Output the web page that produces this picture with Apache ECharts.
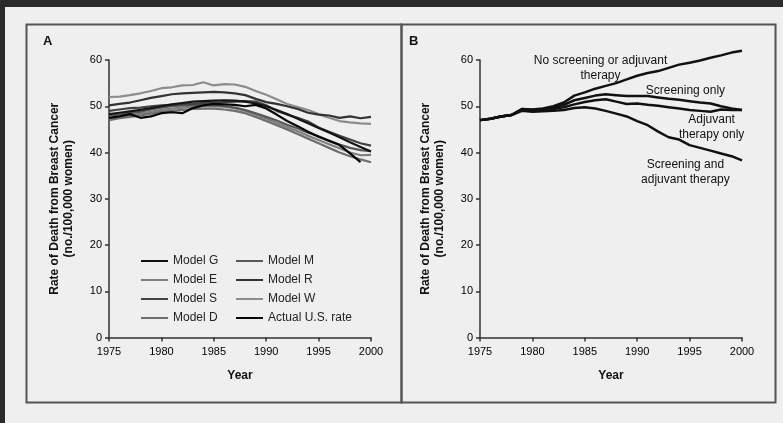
<!DOCTYPE html>
<html>
<head>
<meta charset="utf-8">
<style>
  html, body { margin: 0; padding: 0; background: #2b2b2b; }
  #main { width: 783px; height: 423px; }
</style>
<script src="https://cdn.jsdelivr.net/npm/echarts@6/dist/echarts.min.js"></script>
</head>
<body>
<div id="main"></div>
<script>
// years shared by both panels
const years = [1975, 1976, 1977, 1978, 1979, 1980, 1981, 1982, 1983, 1984, 1985, 1986, 1987,
    1988, 1989, 1990, 1991, 1992, 1993, 1994, 1995, 1996, 1997, 1998, 1999, 2000];

// panel A - model predictions
const modelW = [52.0, 52.1, 52.4, 52.8, 53.3, 53.9, 54.1, 54.5, 54.6, 55.2, 54.5, 54.8, 54.7,
    54.2, 53.3, 52.5, 51.5, 50.5, 49.8, 49.2, 48.3, 47.5, 46.8, 46.5, 46.3, 46.2];
const modelE = [47.2, 47.6, 48.0, 48.4, 48.8, 49.2, 49.5, 49.7, 49.9, 50.0, 50.0, 49.9, 49.6,
    49.0, 48.2, 47.3, 46.4, 45.5, 44.6, 43.6, 42.7, 41.8, 40.9, 40.0, 39.4, 39.5];
const modelD = [47.0, 47.4, 47.7, 48.0, 48.4, 48.8, 49.0, 49.2, 49.4, 49.5, 49.5, 49.3, 49.0,
    48.5, 47.7, 46.8, 45.9, 45.0, 44.0, 43.0, 42.0, 41.0, 40.0, 39.2, 38.5, 37.9];
const modelM = [48.0, 48.2, 48.5, 48.8, 49.3, 49.7, 50.0, 50.2, 50.3, 50.3, 50.2, 50.0, 49.7,
    49.2, 48.5, 47.7, 46.9, 46.0, 45.2, 44.3, 43.5, 42.6, 41.7, 41.0, 40.5, 40.3];
const modelS = [49.0, 49.3, 49.6, 49.7, 50.0, 50.2, 50.3, 50.4, 50.5, 50.7, 50.8, 50.9, 51.0,
    51.1, 51.0, 50.2, 49.0, 48.2, 47.5, 46.7, 45.4, 44.5, 43.6, 42.8, 42.0, 41.5];
const modelR = [50.2, 50.5, 50.8, 51.3, 51.8, 52.2, 52.6, 52.8, 52.9, 53.0, 53.1, 53.0, 52.8,
    52.4, 51.6, 50.9, 50.5, 50.0, 49.4, 48.6, 48.2, 48.0, 47.5, 47.8, 47.4, 47.7];
const modelG = [48.3, 48.6, 48.9, 49.2, 49.6, 50.0, 50.4, 50.7, 51.0, 51.1, 51.2, 51.3, 51.2,
    51.0, 50.6, 50.0, 49.2, 48.3, 47.3, 46.3, 45.3, 44.3, 43.3, 42.2, 41.2, 40.2];
const actualUS = [47.5, 47.8, 48.3, 47.5, 47.8, 48.5, 48.7, 48.5, 49.6, 50.2, 50.5, 50.4, 50.3,
    50.0, 50.3, 49.5, 48.2, 46.8, 45.7, 44.5, 43.4, 42.5, 41.6, 39.8, 37.9, null];

// panel B - scenarios
const noScreening = [47.0, 47.3, 47.8, 48.1, 49.4, 49.3, 49.5, 50.0, 50.8, 52.3, 53.0, 53.8, 54.4,
    55.0, 55.8, 56.6, 57.2, 57.6, 58.3, 59.0, 59.4, 59.9, 60.5, 61.0, 61.6, 62.0];
const screeningOnly = [47.0, 47.3, 47.8, 48.1, 49.4, 49.2, 49.3, 49.7, 50.3, 51.3, 51.8, 52.3, 52.6,
    52.4, 52.2, 52.2, 52.2, 51.9, 51.6, 51.4, 51.1, 50.8, 50.6, 50.0, 49.5, 49.2];
const adjuvantOnly = [47.0, 47.3, 47.8, 48.1, 49.2, 49.0, 49.1, 49.4, 49.8, 50.4, 50.9, 51.3, 51.5,
    51.0, 50.5, 50.6, 50.3, 50.1, 49.8, 49.5, 49.2, 49.0, 48.8, 49.3, 49.2, 49.2];
const screeningAdjuvant = [47.0, 47.3, 47.8, 48.1, 49.0, 48.8, 48.9, 49.0, 49.2, 49.6, 49.8, 49.5, 49.0,
    48.4, 47.8, 46.8, 45.9, 44.5, 43.3, 42.8, 41.6, 41.0, 40.4, 39.8, 39.2, 38.3];

// annotations in panel B (text, year, rate)
const annoText = ['No screening or adjuvant\ntherapy', 'Screening only', 'Adjuvant\ntherapy only', 'Screening and\nadjuvant therapy'];
const annoYear = [1986.5, 1994.6, 1997.1, 1994.6];
const annoRate = [58.3, 53.3, 45.5, 35.7];

const yTicks = [0, 10, 20, 30, 40, 50, 60];
const yearTicks = [1975, 1980, 1985, 1990, 1995, 2000];

const font = 'Liberation Sans';
const pair = (vals) => years.map((y, i) => [y, vals[i]]);

let chartDom = document.querySelector('#main');
let myChart = echarts.init(chartDom, null, { renderer: 'canvas' });

const xAxisBase = (gridIndex) => ({
    type: 'value',
    gridIndex: gridIndex,
    min: yearTicks[0],
    max: yearTicks[yearTicks.length - 1],
    interval: 5,
    name: 'Year',
    nameLocation: 'middle',
    nameGap: 32,
    nameTextStyle: { fontFamily: font, fontSize: 12, fontWeight: 'bold', color: '#111' },
    axisLine: { lineStyle: { color: '#333', width: 1.5 } },
    axisTick: { show: true, length: 4, lineStyle: { color: '#333', width: 1.5 } },
    axisLabel: { margin: 9, fontFamily: font, fontSize: 11, color: '#000', formatter: (v) => String(v) },
    splitLine: { show: false },
});
const yAxisBase = (gridIndex) => ({
    type: 'value',
    gridIndex: gridIndex,
    min: yTicks[0],
    max: yTicks[yTicks.length - 1],
    interval: 10,
    name: 'Rate of Death from Breast Cancer\n(no./100,000 women)',
    nameLocation: 'middle',
    nameRotate: 90,
    nameGap: 33,
    nameTextStyle: { fontFamily: font, fontSize: 12, fontWeight: 'bold', color: '#111', lineHeight: 14 },
    axisLine: { show: true, lineStyle: { color: '#333', width: 1.5 } },
    axisTick: { show: true, length: 4, lineStyle: { color: '#333', width: 1.5 } },
    axisLabel: { margin: 7, fontFamily: font, fontSize: 11, color: '#000' },
    splitLine: { show: false },
});

const modelLine = (name, vals, color) => ({
    name: name,
    type: 'line',
    xAxisIndex: 0,
    yAxisIndex: 0,
    symbol: 'none',
    lineStyle: { color: color, width: 2.2 },
    itemStyle: { color: color },
    data: pair(vals),
});
const scenarioLine = (name, vals) => ({
    name: name,
    type: 'line',
    xAxisIndex: 1,
    yAxisIndex: 1,
    symbol: 'none',
    clip: false,
    lineStyle: { color: '#111', width: 2.5 },
    itemStyle: { color: '#111' },
    data: pair(vals),
});

// legend icon = plain line, symbol hidden
const legendStyle = {
    orient: 'vertical',
    itemWidth: 27,
    itemHeight: 12,
    itemGap: 7,
    itemStyle: { opacity: 0 },
    textStyle: { fontFamily: font, fontSize: 12, color: '#222', lineHeight: 12 },
};

let annoSeries = scenarioLine('No screening or adjuvant therapy', noScreening);
annoSeries.markPoint = {
    symbol: 'rect',
    symbolSize: 1,
    itemStyle: { color: 'rgba(0,0,0,0)' },
    label: { show: true, position: 'inside', formatter: '{b}', fontFamily: font, fontSize: 12, color: '#111', lineHeight: 15, align: 'center' },
    data: annoText.map((t, i) => ({ name: t, coord: [annoYear[i], annoRate[i]] })),
};

myChart.setOption({
    backgroundColor: '#efefef',
    animation: false,
    // frame and panel boxes
    graphic: [
        { type: 'rect', shape: { x: 0, y: 0, width: 783, height: 7 }, style: { fill: '#2b2b2b' } },
        { type: 'rect', shape: { x: 0, y: 0, width: 5, height: 423 }, style: { fill: '#2b2b2b' } },
        { type: 'rect', shape: { x: 26.5, y: 24.5, width: 375, height: 378 }, style: { fill: null, stroke: '#555', lineWidth: 2 } },
        { type: 'rect', shape: { x: 401.5, y: 24.5, width: 374, height: 378 }, style: { fill: null, stroke: '#555', lineWidth: 2 } },
        { type: 'text', x: 43, y: 35, style: { text: 'A', fontFamily: font, fontSize: 13, fontWeight: 'bold', fill: '#111' } },
        { type: 'text', x: 409, y: 35, style: { text: 'B', fontFamily: font, fontSize: 13, fontWeight: 'bold', fill: '#111' } },
    ],
    grid: [
        { left: 109, top: 60, width: 262, height: 277.5 },
        { left: 480, top: 60, width: 262, height: 277.5 },
    ],
    legend: [
        Object.assign({ left: 135, top: 250, data: ['Model G', 'Model E', 'Model S', 'Model D'] }, legendStyle),
        Object.assign({ left: 230, top: 250, data: ['Model M', 'Model R', 'Model W', 'Actual U.S. rate'] }, legendStyle),
    ],
    xAxis: [xAxisBase(0), xAxisBase(1)],
    yAxis: [yAxisBase(0), yAxisBase(1)],
    series: [
        modelLine('Model W', modelW, '#8c8c8c'),
        modelLine('Model E', modelE, '#7e7e7e'),
        modelLine('Model D', modelD, '#6e6e6e'),
        modelLine('Model M', modelM, '#585858'),
        modelLine('Model S', modelS, '#434343'),
        modelLine('Model R', modelR, '#333333'),
        modelLine('Model G', modelG, '#141414'),
        modelLine('Actual U.S. rate', actualUS, '#060606'),
        annoSeries,
        scenarioLine('Screening only', screeningOnly),
        scenarioLine('Adjuvant therapy only', adjuvantOnly),
        scenarioLine('Screening and adjuvant therapy', screeningAdjuvant),
    ],
});
</script>
</body>
</html>
